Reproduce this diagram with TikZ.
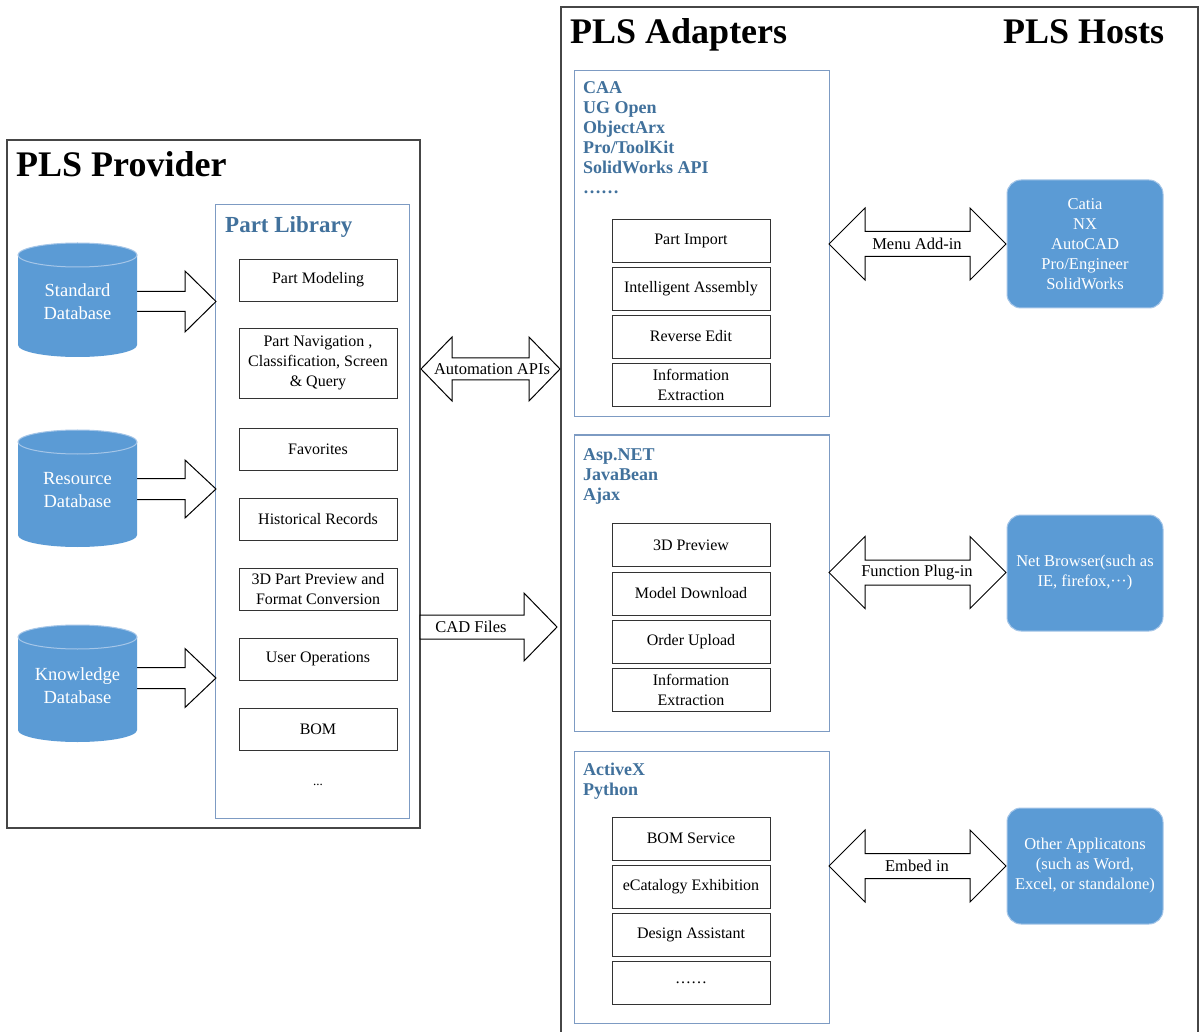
\documentclass[tikz,border=0pt]{standalone}
\usepackage{fontspec}
\setmainfont{Liberation Serif}
\usetikzlibrary{calc}
\definecolor{dbfill}{RGB}{91,155,213}
\definecolor{dbline}{RGB}{165,198,232}
\definecolor{bluetext}{RGB}{65,113,156}
\definecolor{blueframe}{RGB}{125,155,195}
\definecolor{grayframe}{RGB}{70,70,70}
\newcommand\mycyl[5]{% name, xc, ytop, ybottom, text
  \fill[dbfill] ({#2-59.5},#3) -- ({#2-59.5},#4) arc[start angle=180,end angle=360,x radius=59.5pt,y radius=12pt] -- ({#2+59.5},#3) -- cycle;
  \filldraw[fill=dbfill,draw=dbline,line width=1pt] (#2,#3) ellipse[x radius=59.5pt,y radius=12pt];
  \node[dbtext,minimum width=119pt] (#1) at (#2,{(#3+#4)/2+2}) {#5};
}
\newcommand\rblock[6]{% x1 x2 yc headlen headhalf shafthalf
  \draw[barrow] (#1,{#3-#6}) -- ({#2-#4},{#3-#6}) -- ({#2-#4},{#3-#5}) -- (#2,#3) -- ({#2-#4},{#3+#5}) -- ({#2-#4},{#3+#6}) -- (#1,{#3+#6}) -- cycle;
}
\newcommand\dblock[6]{% x1 x2 yc headlen headhalf shafthalf
  \draw[barrow] (#1,#3) -- ({#1+#4},{#3-#5}) -- ({#1+#4},{#3-#6}) -- ({#2-#4},{#3-#6}) -- ({#2-#4},{#3-#5}) -- (#2,#3) -- ({#2-#4},{#3+#5}) -- ({#2-#4},{#3+#6}) -- ({#1+#4},{#3+#6}) -- ({#1+#4},{#3+#5}) -- cycle;
}
\tikzset{
 outerbox/.style={draw=grayframe, line width=1.3pt},
 bluebox/.style={draw=blueframe, line width=1pt, inner sep=0pt},
 item/.style={draw=black!80, line width=0.9pt, minimum width=158pt, align=center, inner sep=0pt, font=\fontsize{16}{20}\selectfont},
 host/.style={fill=dbfill, draw=dbline, line width=1pt, rounded corners=14pt, minimum width=156pt, inner sep=0pt, text=white, align=center, font=\fontsize{16.5}{20}\selectfont},
 barrow/.style={draw=black, line width=1pt, fill=white, line join=miter, miter limit=10},
 lbl/.style={font=\fontsize{16.5}{20}\selectfont, inner sep=0pt},
 bigtitle/.style={font=\fontsize{36}{40}\selectfont\bfseries, anchor=base west, inner sep=0pt},
 bluelist/.style={font=\fontsize{18}{20}\selectfont\bfseries, text=bluetext, anchor=base west, inner sep=0pt},
 dbtext/.style={text=white, align=center, font=\fontsize{18.5}{23}\selectfont, inner sep=0pt},
}
\begin{document}
\begin{tikzpicture}[x=1pt,y=-1pt]
\useasboundingbox[fill=white] (0,0) rectangle (1203,1032);

% ---------- PLS Provider ----------
\node[outerbox, minimum width=413pt, minimum height=688pt, inner sep=0pt] (prov) at (213.5,484) {};
\node[bigtitle] (provt) at (16,177) {PLS Provider};
\node[bluebox, minimum width=194pt, minimum height=613pt] (lib) at (312,511.5) {};
\node[font=\fontsize{23}{26}\selectfont\bfseries, text=bluetext, anchor=base west, inner sep=0pt] (libt) at (225,233) {Part Library};

\node[item, minimum height=42pt] (l1) at (318,280) {Part Modeling};
\node[item, minimum height=70pt] (l2) at (318,363) {Part Navigation ,\\Classification, Screen\\\& Query};
\node[item, minimum height=42pt] (l3) at (318,449) {Favorites};
\node[item, minimum height=42pt] (l4) at (318,519) {Historical Records};
\node[item, minimum height=42pt] (l5) at (318,589) {3D Part Preview and\\Format Conversion};
\node[item, minimum height=42pt] (l6) at (318,659) {User Operations};
\node[item, minimum height=42pt] (l7) at (318,729) {BOM};
\node[font=\fontsize{13}{14}\selectfont, inner sep=0pt] (l8) at (318,785) {...};

% block arrows from databases
\rblock{130}{216}{301.5}{31}{30.5}{10}
\rblock{130}{216}{489}{31}{29}{10.5}
\rblock{130}{216}{678}{31}{29.5}{10.5}

\mycyl{std}{77.5}{255}{345}{Standard\\Database}
\mycyl{res}{77.5}{442}{535}{Resource\\Database}
\mycyl{kno}{77.5}{637}{730}{Knowledge\\Database}

% ---------- PLS Adapters ----------
\draw[outerbox] (561,1045) -- (561,7) -- (1198,7) -- (1198,1045);
\node[bigtitle] (adt) at (570,44) {PLS Adapters};
\node[bigtitle] (hot) at (1003,44) {PLS Hosts};

\node[bluebox, minimum width=255pt, minimum height=346pt] (a1) at (701.5,244) {};
\node[bluebox, minimum width=255pt, minimum height=296pt] (a2) at (701.5,583) {};
\node[bluebox, minimum width=255pt, minimum height=272pt] (a3) at (701.5,887) {};

\foreach \t [count=\i] in {CAA,UG Open,ObjectArx,Pro/ToolKit,SolidWorks API,……}
  \node[bluelist] (c\i) at (583,{73.3+20*\i}) {\t};
\foreach \t [count=\i] in {Asp.NET,JavaBean,Ajax}
  \node[bluelist] (w\i) at (583,{440.3+20*\i}) {\t};
\foreach \t [count=\i] in {ActiveX,Python}
  \node[bluelist] (x\i) at (583,{755.3+20*\i}) {\t};

\node[item, minimum height=43pt] (p1) at (691,240.5) {Part Import};
\node[item, minimum height=43pt] (p2) at (691,288.5) {Intelligent Assembly};
\node[item, minimum height=43pt] (p3) at (691,336.5) {Reverse Edit};
\node[item, minimum height=43pt] (p4) at (691,384.5) {Information\\Extraction};

\node[item, minimum height=43pt] (q1) at (691,545) {3D Preview};
\node[item, minimum height=43pt] (q2) at (691,593.5) {Model Download};
\node[item, minimum height=43pt] (q3) at (691,641.5) {Order Upload};
\node[item, minimum height=43pt] (q4) at (691,689.5) {Information\\Extraction};

\node[item, minimum height=43pt] (r1) at (691,838.5) {BOM Service};
\node[item, minimum height=43pt] (r2) at (691,886.5) {eCatalogy Exhibition};
\node[item, minimum height=43pt] (r3) at (691,934.5) {Design Assistant};
\node[item, minimum height=43pt] (r4) at (691,982.5) {……};

% ---------- Hosts ----------
\node[host, minimum height=128pt] (h1) at (1085,244) {Catia\\NX\\AutoCAD\\Pro/Engineer\\SolidWorks};
\node[host, minimum height=116pt] (h2) at (1085,573) {Net Browser(such as\\IE, firefox,···)};
\node[host, minimum height=116pt] (h3) at (1085,866) {Other Applicatons\\(such as Word,\\Excel, or standalone)};

% ---------- connectors ----------
\dblock{421}{560}{369}{31}{32}{11}
\node[lbl] (autol) at (492,369) {Automation APIs};
\rblock{420}{557}{627}{33}{34}{12}
\node[lbl] (cadl) at (471,627) {CAD Files};

\dblock{829}{1006}{244}{36}{36}{12.5}
\node[lbl] (m1) at (917,244) {Menu Add-in};
\dblock{829}{1006}{572.5}{36}{36}{12.5}
\node[lbl] (m2) at (917,572.5) {Function Plug-in};
\dblock{829}{1006}{866}{36}{36}{12.5}
\node[lbl] (m3) at (917,866) {Embed in};
\end{tikzpicture}
\end{document}
